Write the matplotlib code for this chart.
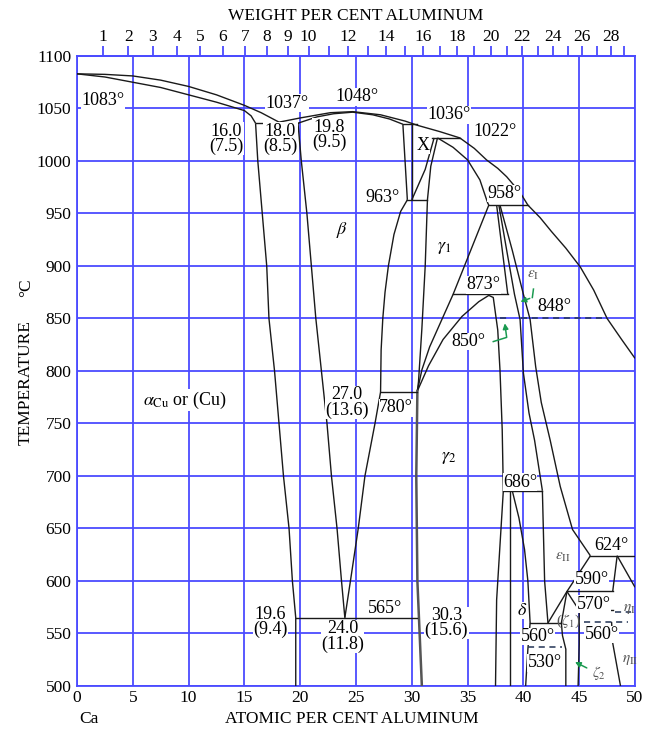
import numpy as np
import matplotlib
matplotlib.use("Agg")
import matplotlib.pyplot as plt

plt.rcParams['font.family'] = ['Liberation Serif', 'DejaVu Serif']
plt.rcParams['mathtext.fontset'] = 'stix'

# ---------------- axis data ----------------
at_ticks = [0, 5, 10, 15, 20, 25, 30, 35, 40, 45, 50]
temp_ticks = [500, 550, 600, 650, 700, 750, 800, 850, 900, 950, 1000, 1050, 1100]
wt_ticks = list(range(1, 30))
wt_labels = [1, 2, 3, 4, 5, 6, 7, 8, 9, 10, 12, 14, 16, 18, 20, 22, 24, 26, 28]

# ---------------- phase boundaries (atomic % Al, deg C) ----------------
cu_liquidus = [(0, 1083), (2.5, 1082.5), (5, 1081), (7.5, 1077), (10, 1071), (12.5, 1063),
               (15, 1053), (16.5, 1046), (18.1, 1037)]
cu_solidus = [(0, 1083), (2.5, 1080), (5, 1075), (7.5, 1070), (10, 1063), (12.5, 1056),
              (15, 1048), (15.6, 1043), (16.0, 1036)]
alpha_solvus = [(16.0, 1036), (16.2, 1000), (16.6, 950), (17.0, 900), (17.2, 850), (17.7, 800),
                (18.1, 750), (18.5, 700), (19.0, 650), (19.3, 600), (19.6, 565), (19.6, 500)]
beta_left = [(19.8, 1036), (20.1, 1000), (20.6, 950), (21.0, 900), (21.4, 850), (21.9, 800),
             (22.4, 750), (22.8, 700), (23.3, 650), (23.7, 600), (24.0, 565)]
beta_right_low = [(24.0, 565), (24.5, 600), (25.2, 650), (25.8, 700), (26.7, 750), (27.2, 780)]
beta_right_high = [(27.2, 780), (27.25, 820), (27.4, 850), (27.6, 875), (27.9, 900),
                   (28.4, 930), (29.0, 952), (29.6, 963)]
beta_liquidus = [(18.1, 1037), (20.0, 1041), (22.7, 1046), (24.7, 1047), (27.2, 1044),
                 (29.4, 1038), (30.5, 1034), (32.5, 1028), (34.3, 1022), (35.6, 1012),
                 (36.7, 1001), (37.7, 993), (38.5, 985), (39.7, 970), (40.4, 958),
                 (41.5, 946), (42.5, 933), (43.8, 917), (45.1, 899), (46.3, 877),
                 (47.5, 850), (48.8, 830), (50.0, 812)]
beta_solidus = [(19.8, 1036), (21.5, 1042), (23.0, 1045), (24.7, 1046.5), (26.5, 1044),
                (28.0, 1040), (29.2, 1035)]
beta_x = [(29.2, 1035), (29.6, 963)]
x_left = [(30.0, 1035), (30.0, 963)]
x_right = [(32.0, 1022), (31.2, 992), (30.0, 963)]
gamma1_left = [(32.3, 1022), (31.7, 995), (31.4, 963), (31.2, 900), (30.9, 840), (30.6, 790),
               (30.5, 781)]
gamma1_top = [(32.3, 1022), (33.7, 1013), (35.0, 1001), (36.1, 982), (36.8, 960), (36.9, 958)]
gamma1_right = [(36.9, 958), (33.7, 873), (31.6, 823), (30.9, 801), (30.5, 781)]
gamma2_dome = [(30.5, 781), (31.5, 805), (32.8, 830), (34.5, 852), (36.0, 866), (36.9, 872),
               (37.3, 870), (37.7, 839), (37.9, 801), (38.1, 744), (38.2, 686)]
gamma2_right = [(38.2, 686), (37.6, 582), (37.5, 500)]
gamma2_left = [(30.5, 781), (30.4, 700), (30.5, 600), (30.9, 500)]
eps_a = [(37.6, 958), (38.6, 873)]
eps_b = [(37.8, 958), (38.5, 915), (39.2, 873), (39.7, 849), (40.0, 798), (40.5, 760),
         (41.0, 734), (41.7, 686)]
eps_c = [(37.9, 958), (39.0, 915), (40.0, 873), (40.6, 849), (41.1, 804), (41.6, 770),
         (42.4, 734), (43.3, 690), (44.4, 649), (46.0, 624)]
delta_left = [(38.8, 686), (38.8, 500)]
delta_right = [(39.0, 686), (39.6, 660), (40.1, 630), (40.4, 600), (40.6, 560), (40.4, 535),
               (40.2, 500)]
eps2_left = [(41.7, 686), (41.9, 600), (42.2, 560)]
eps2_lower = [(42.2, 560), (43.9, 590), (46.0, 624)]
zeta1_left = [(43.9, 590), (43.4, 560), (43.5, 548), (43.8, 535), (43.8, 500)]
zeta1_right = [(43.9, 590), (45.0, 572), (45.0, 540), (44.9, 500)]
eta_a = [(48.4, 624), (48.0, 590)]
eta_b = [(48.4, 624), (50.0, 594)]
eta2_left = [(47.9, 561), (48.0, 541), (48.7, 500)]

# invariant (horizontal) lines: temperature, from, to
inv_T = [1036, 1035, 1022, 963, 958, 873, 780, 686, 624, 590, 565, 560, 572]
inv_x0 = [16.0, 29.2, 31.8, 29.6, 36.9, 33.7, 27.2, 38.2, 46.0, 43.9, 19.6, 40.6, 45.0]
inv_x1 = [19.8, 30.5, 34.3, 31.4, 40.4, 38.6, 30.5, 41.7, 50.0, 48.0, 30.5, 43.4, 48.0]
# dashed transitions
dash_T = [850, 850, 570, 561, 537]
dash_x0 = [39.8, 37.9, 48.2, 45.4, 40.4]
dash_x1 = [47.5, 38.5, 49.6, 49.4, 43.5]

# ---------------- labels ----------------
lab_text = ["1083°", "1037°", "1048°", "1036°", "1022°", "16.0\n(7.5)", "18.0\n(8.5)",
            "19.8\n(9.5)", "963°", "958°", "873°", "848°", "850°", "27.0\n(13.6)", "780°",
            "686°", "624°", "590°", "570°", "560°", "560°", "530°", "19.6\n(9.4)",
            "24.0\n(11.8)", "565°", "30.3\n(15.6)"]
lab_x = [0.4, 18.8, 25.1, 33.3, 37.5, 13.4, 18.2, 22.6, 27.4, 38.3, 36.4, 42.8, 35.1,
         24.2, 28.6, 39.7, 47.9, 46.1, 46.3, 41.3, 47.0, 41.9, 17.3, 23.8, 27.6, 33.1]
lab_y = [1058, 1055, 1061, 1044, 1028, 1021, 1021, 1025, 965, 969, 882, 861, 828,
         770, 765, 694, 634, 601, 578, 547, 549, 522, 561, 547, 574, 560]
lab_ha = ["left"] + ["center"] * 25

phase_text = [r"$\beta$", r"$\gamma_1$", r"$\gamma_2$", "X", r"$\delta$",
              r"$\alpha_{\rm Cu}$ or (Cu)"]
phase_x = [23.7, 32.9, 33.3, 31.0, 39.9, 9.7]
phase_y = [934, 918, 718, 1015, 572, 772]
gray_text = [r"$\varepsilon_{\rm I}$", r"$\varepsilon_{\rm II}$", r"$\eta_{\rm I}$",
             r"$\eta_{\rm II}$", r"($\zeta_1$)", r"$\zeta_2$"]
gray_x = [40.9, 43.5, 49.5, 49.6, 44.0, 46.8]
gray_y = [891, 622, 573, 525, 562, 512]

# ---------------- conversions ----------------
def wt_to_at(w):
    w = np.asarray(w, dtype=float)
    a = w / 26.98
    c = (100 - w) / 63.55
    return 100 * a / (a + c)

def at_to_wt(x):
    x = np.asarray(x, dtype=float)
    a = x * 26.98
    c = (100 - x) * 63.55
    return 100 * a / (a + c)

BLUE = "#4b4bff"

fig = plt.figure(figsize=(6.46, 7.31), dpi=100)
ax = fig.add_axes([0.1192, 0.0616, 0.8638, 0.8618])
ax.set_xlim(0, 50)
ax.set_ylim(500, 1100)
ax.set_xticks(at_ticks)
ax.set_yticks(temp_ticks)
ax.grid(True, color=BLUE, lw=1.3, zorder=0)
ax.set_axisbelow(True)
for s in ax.spines.values():
    s.set_color(BLUE)
    s.set_linewidth(1.3)
ax.tick_params(length=0, labelsize=12.5, pad=3)
ax.tick_params(axis='y', pad=4)

sec = ax.secondary_xaxis('top', functions=(at_to_wt, wt_to_at))
sec.set_xticks(wt_ticks)
sec.set_xticklabels([str(w) if w in wt_labels else "" for w in wt_ticks])
sec.tick_params(direction='out', length=7, width=1.3, color=BLUE, labelsize=12.5, pad=1)
sec.spines['top'].set_color(BLUE)
sec.spines['top'].set_linewidth(1.3)

LC = "#1a1a1a"
curves = [cu_liquidus, cu_solidus, alpha_solvus, beta_left, beta_right_low, beta_right_high,
          beta_liquidus, beta_solidus, beta_x, x_left, x_right, gamma1_left, gamma1_top,
          gamma1_right, gamma2_dome, gamma2_right, eps_a, eps_b, eps_c, delta_left,
          delta_right, eps2_left, eps2_lower, zeta1_left, zeta1_right, eta_a, eta_b,
          eta2_left]
for c in curves:
    xs, ys = zip(*c)
    ax.plot(xs, ys, color=LC, lw=1.0, zorder=3, solid_capstyle='butt')
xs, ys = zip(*gamma2_left)
ax.plot(xs, ys, color="#555555", lw=1.8, zorder=3)

for T, a, b in zip(inv_T, inv_x0, inv_x1):
    ax.plot([a, b], [T, T], color=LC, lw=1.0, zorder=3)
for T, a, b in zip(dash_T, dash_x0, dash_x1):
    ax.plot([a, b], [T, T], color="#223355", lw=1.1, ls=(0, (4, 3)), zorder=3)

for t, x, y, ha in zip(lab_text, lab_x, lab_y, lab_ha):
    ax.text(x, y, t, ha=ha, va='center', fontsize=13, linespacing=0.85, zorder=5,
            bbox=dict(facecolor='white', edgecolor='none', pad=0.3))
for t, x, y in zip(phase_text, phase_x, phase_y):
    ax.text(x, y, t, ha='center', va='center', fontsize=13, zorder=5,
            bbox=dict(facecolor='white', edgecolor='none', pad=0.3))
for t, x, y in zip(gray_text, gray_x, gray_y):
    ax.text(x, y, t, ha='center', va='center', fontsize=11, color="#555555", zorder=5)

GREEN = "#1a9a50"
ax.annotate("", xy=(39.5, 865), xytext=(40.8, 870), zorder=6,
            arrowprops=dict(arrowstyle="-|>", color=GREEN, lw=1.1, mutation_scale=8))
ax.plot([40.9, 40.8], [878, 870], color=GREEN, lw=1.1, zorder=6)
ax.plot([37.3, 38.5, 38.4], [828, 832, 840], color=GREEN, lw=1.1, zorder=6)
ax.annotate("", xy=(38.3, 848), xytext=(38.4, 840), zorder=6,
            arrowprops=dict(arrowstyle="-|>", color=GREEN, lw=1.1, mutation_scale=8))
ax.annotate("", xy=(44.4, 524), xytext=(45.9, 516), zorder=6,
            arrowprops=dict(arrowstyle="-|>", color=GREEN, lw=1.1, mutation_scale=8))

fig.text(0.55, 0.978, "WEIGHT PER CENT ALUMINUM", ha='center', va='center', fontsize=12.5)
fig.text(0.545, 0.017, "ATOMIC PER CENT ALUMINUM", ha='center', va='center', fontsize=12.5)
fig.text(0.137, 0.017, "Ca", ha='center', va='center', fontsize=12.5)
fig.text(0.04, 0.476, "TEMPERATURE", ha='center', va='center', rotation=90, fontsize=12.5)
fig.text(0.04, 0.606, "°C", ha='center', va='center', rotation=90, fontsize=12.5)

fig.savefig("out.png", dpi=100, facecolor='white')
